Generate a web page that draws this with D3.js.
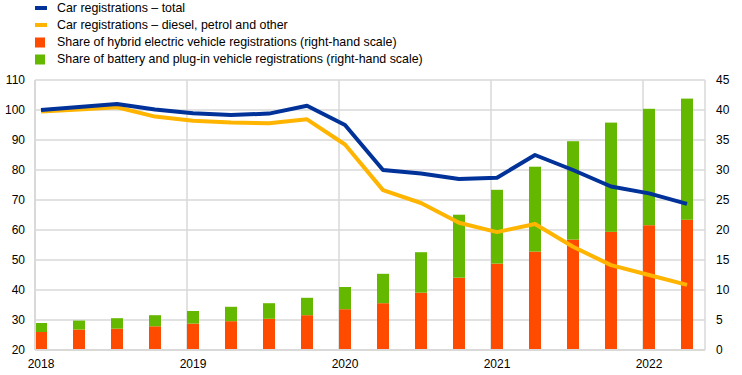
<!DOCTYPE html>
<html>
<head>
<meta charset="utf-8">
<script src="https://cdn.jsdelivr.net/npm/d3@7"></script>
<style>
  body { margin: 0; background: #fff; }
  text { font-family: "Liberation Sans", Arial, sans-serif; font-size: 12px; fill: #000; }
  .legend text { font-size: 12.4px; }
</style>
</head>
<body>
<script>
// quarters 2018 Q1 - 2022 Q2
var quarters = ["2018Q1","2018Q2","2018Q3","2018Q4","2019Q1","2019Q2","2019Q3","2019Q4",
  "2020Q1","2020Q2","2020Q3","2020Q4","2021Q1","2021Q2","2021Q3","2021Q4","2022Q1","2022Q2"];

// index, left-hand scale
var totalRegs = [100, 101, 102, 100.2, 98.9, 98.3, 98.8, 101.4, 95, 80, 78.8, 77, 77.4, 85, 80, 74.5, 72.2, 68.7];
var dieselPetrolRegs = [99.5, 100.2, 100.9, 97.8, 96.4, 95.8, 95.6, 96.9, 88.5, 73.3, 69, 62.4, 59.3, 62, 54.4, 48.3, 45, 41.7];

// shares in %, right-hand scale
var hybridShare = [3.0, 3.4, 3.55, 3.95, 4.4, 4.8, 5.2, 5.8, 6.8, 7.8, 9.55, 12.05, 14.4, 16.4, 18.4, 19.7, 20.8, 21.7];
var batteryShare = [1.5, 1.5, 1.75, 1.85, 2.1, 2.4, 2.6, 2.9, 3.7, 4.9, 6.75, 10.5, 12.3, 14.15, 16.4, 18.2, 19.4, 20.2];

var leftTicks = [20, 30, 40, 50, 60, 70, 80, 90, 100, 110];
var rightTicks = [0, 5, 10, 15, 20, 25, 30, 35, 40, 45];
var yearTicks = ["2018Q1","2019Q1","2020Q1","2021Q1","2022Q1"];

var legendItems = [
  {label: "Car registrations \u2013 total", color: "#003299", type: "line"},
  {label: "Car registrations \u2013 diesel, petrol and other", color: "#FFB400", type: "line"},
  {label: "Share of hybrid electric vehicle registrations (right-hand scale)", color: "#FF4B00", type: "box"},
  {label: "Share of battery and plug-in vehicle registrations (right-hand scale)", color: "#65B800", type: "box"}
];

var svgWidth = 742;
var svgHeight = 375;
var margin = {top: 80, right: 37, bottom: 25, left: 35};
var width = svgWidth - margin.left - margin.right;
var height = svgHeight - margin.top - margin.bottom;

var svg = d3.select("body").append("svg")
  .attr("width", svgWidth)
  .attr("height", svgHeight);

// legend
var legend = svg.append("g").attr("class", "legend").attr("transform", "translate(35, 8)");
legendItems.forEach(function(item, i) {
  var g = legend.append("g").attr("transform", `translate(0, ${i * 17})`);
  if (item.type == "line") {
    g.append("rect").attr("x", 0).attr("y", -2).attr("width", 12).attr("height", 4).attr("fill", item.color);
  } else {
    g.append("rect").attr("x", 0).attr("y", -4.5).attr("width", 10).attr("height", 10).attr("fill", item.color);
  }
  g.append("text").attr("x", 22).attr("y", 0).attr("dy", "0.35em").text(item.label);
});

var chartGroup = svg.append("g")
  .attr("transform", `translate(${margin.left}, ${margin.top})`);

// bars: 38px step, 12px wide, left-aligned
var step = 38, barW = 12;
var x = d3.scaleBand()
  .domain(quarters)
  .range([0, width])
  .paddingInner((step - barW) / step)
  .paddingOuter((width / step - quarters.length + (step - barW) / step) / 2)
  .align(0);

var yLeft = d3.scaleLinear().domain([20, 110]).range([height, 0]);
var yRight = d3.scaleLinear().domain([0, 45]).range([height, 0]);

// horizontal gridlines
chartGroup.append("g").selectAll("line")
  .data(leftTicks)
  .join("line")
  .attr("x1", 0).attr("x2", width)
  .attr("y1", d => yLeft(d)).attr("y2", d => yLeft(d))
  .attr("stroke", "#d9d9d9").attr("stroke-width", 1.5);

// vertical gridlines at start of each year + frame sides
chartGroup.append("g").selectAll("line")
  .data(yearTicks)
  .join("line")
  .attr("x1", d => x(d)).attr("x2", d => x(d))
  .attr("y1", 0).attr("y2", height)
  .attr("stroke", "#d9d9d9").attr("stroke-width", 1.5);

chartGroup.append("line")
  .attr("x1", width).attr("x2", width).attr("y1", 0).attr("y2", height)
  .attr("stroke", "#d9d9d9").attr("stroke-width", 1.5);

// stacked bars
var stackData = quarters.map(function(q, i) {
  return {q: q, hybrid: hybridShare[i], battery: batteryShare[i]};
});
var stacked = d3.stack().keys(["hybrid", "battery"])(stackData);
var barColors = {hybrid: "#FF4B00", battery: "#65B800"};

chartGroup.append("g").selectAll("g")
  .data(stacked)
  .join("g")
  .attr("fill", d => barColors[d.key])
  .selectAll("rect")
  .data(d => d)
  .join("rect")
  .attr("x", d => x(d.data.q))
  .attr("width", x.bandwidth())
  .attr("y", d => yRight(d[1]))
  .attr("height", d => yRight(d[0]) - yRight(d[1]));

// lines
var line = d3.line()
  .x((d, i) => x(quarters[i]) + x.bandwidth() / 2)
  .y(d => yLeft(d));

chartGroup.append("path")
  .datum(dieselPetrolRegs)
  .attr("d", line)
  .attr("fill", "none")
  .attr("stroke", "#FFB400")
  .attr("stroke-width", 4)
  .attr("stroke-linejoin", "round");

chartGroup.append("path")
  .datum(totalRegs)
  .attr("d", line)
  .attr("fill", "none")
  .attr("stroke", "#003299")
  .attr("stroke-width", 4)
  .attr("stroke-linejoin", "round");

// axes
var leftAxis = d3.axisLeft(yLeft).tickValues(leftTicks).tickSize(0).tickPadding(10);
var rightAxis = d3.axisRight(yRight).tickValues(rightTicks).tickSize(0).tickPadding(11);
var bottomAxis = d3.axisBottom(x).tickValues(yearTicks).tickFormat(d => d.slice(0, 4)).tickSize(0).tickPadding(9);

var gl = chartGroup.append("g").call(leftAxis);
var gr = chartGroup.append("g").attr("transform", `translate(${width}, 0)`).call(rightAxis);
var gb = chartGroup.append("g").attr("transform", `translate(0, ${height})`).call(bottomAxis);

[gl, gr, gb].forEach(function(g) {
  g.select(".domain").remove();
  g.selectAll("text").attr("font-family", null).attr("font-size", null).attr("fill", null);
});

// axis base and left side
chartGroup.append("line")
  .attr("x1", 0).attr("x2", width).attr("y1", height).attr("y2", height)
  .attr("stroke", "#d9d9d9").attr("stroke-width", 2);
chartGroup.append("line")
  .attr("x1", 0).attr("x2", 0).attr("y1", 0).attr("y2", height)
  .attr("stroke", "#d9d9d9").attr("stroke-width", 2);
</script>
</body>
</html>
